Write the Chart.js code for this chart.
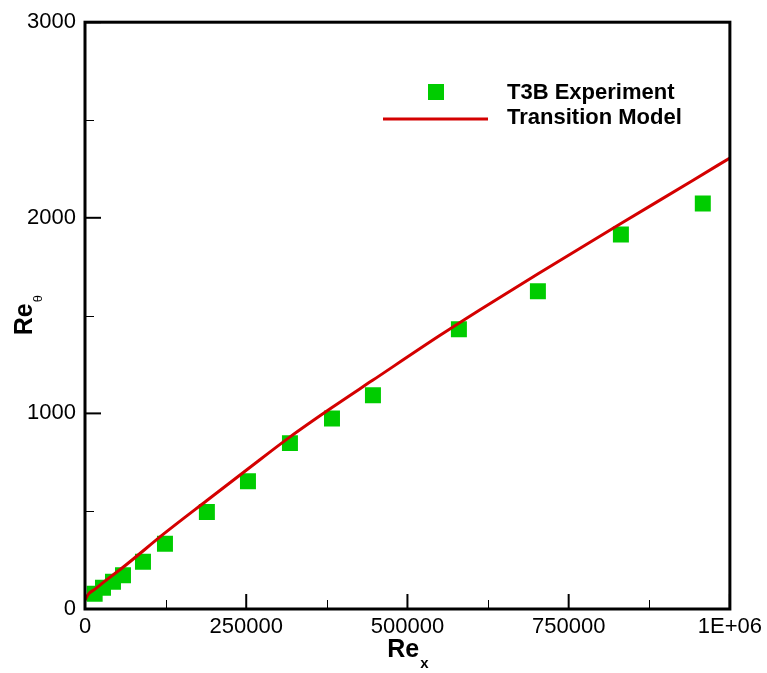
<!DOCTYPE html>
<html>
<head>
<meta charset="utf-8">
<script src="https://cdn.jsdelivr.net/npm/chart.js@4.4.1/dist/chart.umd.min.js"></script>
<style>
  body { margin: 0; background: #ffffff; }
  #wrap { width: 767px; height: 673px; }
</style>
</head>
<body>
<div id="wrap"><canvas id="chart" width="767" height="673"></canvas></div>
<script>
// T3B experiment (squares)
const expRex = [15000, 27900, 43400, 58900, 89900, 124000, 189000, 252700, 317800, 383000, 446500, 579800, 702300, 831000, 958000];
const expRetheta = [78, 109, 139, 173, 241, 333, 496, 653, 848, 974, 1093, 1430, 1624, 1915, 2073];

// transition model (red line)
const modelRex = [0, 5000, 15000, 30000, 60000, 124000, 189000, 251000, 318000, 383000, 446000, 550000, 612000, 702000, 831000, 943000, 1000000];
const modelRetheta = [45, 75, 100, 140, 216, 389, 555, 712, 880, 1030, 1169, 1398, 1529, 1713, 1971, 2192, 2306];

const xMajorTicks = [0, 250000, 500000, 750000, 1000000];
const xMinorTicks = [125000, 375000, 625000, 875000];
const yMajorTicks = [0, 1000, 2000, 3000];
const yMinorTicks = [500, 1500, 2500];

const legendLabels = ['T3B Experiment', 'Transition Model'];
const FONT = '"Liberation Sans", Arial, sans-serif';
const GREEN = '#00cc00';
const RED = '#d40000';

const toPoints = (xs, ys) => xs.map((x, i) => ({ x, y: ys[i] }));

const frameAndTicks = {
  id: 'frameAndTicks',
  afterDraw(chart) {
    const { ctx, chartArea: a, scales } = chart;
    ctx.save();
    ctx.strokeStyle = '#000';
    ctx.lineCap = 'butt';

    ctx.lineWidth = 2;
    xMajorTicks.forEach((v) => {
      const px = scales.x.getPixelForValue(v);
      ctx.beginPath(); ctx.moveTo(px, a.bottom); ctx.lineTo(px, a.bottom - 15); ctx.stroke();
    });
    yMajorTicks.forEach((v) => {
      const py = scales.y.getPixelForValue(v);
      ctx.beginPath(); ctx.moveTo(a.left, py); ctx.lineTo(a.left + 16, py); ctx.stroke();
    });

    ctx.lineWidth = 1;
    xMinorTicks.forEach((v) => {
      const px = Math.round(scales.x.getPixelForValue(v)) + 0.5;
      ctx.beginPath(); ctx.moveTo(px, a.bottom); ctx.lineTo(px, a.bottom - 9); ctx.stroke();
    });
    yMinorTicks.forEach((v) => {
      const py = Math.round(scales.y.getPixelForValue(v)) + 0.5;
      ctx.beginPath(); ctx.moveTo(a.left, py); ctx.lineTo(a.left + 9, py); ctx.stroke();
    });

    ctx.lineWidth = 3;
    ctx.strokeRect(a.left, a.top, a.right - a.left, a.bottom - a.top);

    // axis titles with subscripts
    ctx.fillStyle = '#000';
    ctx.textBaseline = 'alphabetic';
    ctx.font = `bold 25px ${FONT}`;
    const reW = ctx.measureText('Re').width;
    ctx.font = `bold 15px ${FONT}`;
    const subW = ctx.measureText('x').width;
    const cx = (a.left + a.right) / 2;
    const x0 = cx - (reW + subW) / 2;
    ctx.font = `bold 25px ${FONT}`;
    ctx.fillText('Re', x0, 657);
    ctx.font = `bold 15px ${FONT}`;
    ctx.fillText('x', x0 + reW + 1, 668);

    ctx.save();
    ctx.translate(32, (a.top + a.bottom) / 2);
    ctx.rotate(-Math.PI / 2);
    ctx.font = `bold 25px ${FONT}`;
    const reW2 = ctx.measureText('Re').width;
    ctx.font = `13px ${FONT}`;
    const thW = ctx.measureText('θ').width;
    const y0 = -(reW2 + thW) / 2;
    ctx.font = `bold 25px ${FONT}`;
    ctx.fillText('Re', y0, 0);
    ctx.font = `13px ${FONT}`;
    ctx.fillText('θ', y0 + reW2 + 1, 10);
    ctx.restore();

    // legend
    ctx.fillStyle = GREEN;
    ctx.fillRect(428, 84, 16, 16);
    ctx.strokeStyle = RED;
    ctx.lineWidth = 3;
    ctx.beginPath(); ctx.moveTo(383, 119); ctx.lineTo(488, 119); ctx.stroke();
    ctx.fillStyle = '#000';
    ctx.font = `bold 22px ${FONT}`;
    ctx.fillText(legendLabels[0], 507, 99);
    ctx.fillText(legendLabels[1], 507, 124);

    ctx.restore();
  }
};

new Chart(document.getElementById('chart'), {
  type: 'scatter',
  data: {
    datasets: [
      {
        label: legendLabels[0],
        data: toPoints(expRex, expRetheta),
        pointStyle: 'rect',
        pointRadius: 11.3,
        pointHoverRadius: 11.3,
        pointBorderWidth: 0,
        backgroundColor: GREEN,
        borderColor: GREEN,
        order: 1
      },
      {
        label: legendLabels[1],
        data: toPoints(modelRex, modelRetheta),
        showLine: true,
        borderColor: RED,
        borderWidth: 3,
        pointRadius: 0,
        cubicInterpolationMode: 'monotone',
        order: 0
      }
    ]
  },
  options: {
    responsive: false,
    animation: false,
    events: [],
    layout: { padding: { top: 20, right: 37, bottom: 0, left: 0 } },
    plugins: {
      legend: { display: false },
      tooltip: { enabled: false }
    },
    scales: {
      x: {
        type: 'linear',
        min: 0,
        max: 1000000,
        afterFit: (scale) => { scale.height = 64; },
        afterBuildTicks: (scale) => { scale.ticks = xMajorTicks.map((value) => ({ value })); },
        grid: { display: false, drawTicks: false },
        border: { display: false },
        ticks: {
          color: '#000',
          padding: 5,
          maxRotation: 0,
          font: { family: FONT, size: 22 },
          callback: (value) => (value === 1000000 ? '1E+06' : String(value))
        }
      },
      y: {
        type: 'linear',
        min: 0,
        max: 3000,
        afterFit: (scale) => { scale.width = 85; },
        afterBuildTicks: (scale) => { scale.ticks = yMajorTicks.map((value) => ({ value })); },
        grid: { display: false, drawTicks: false },
        border: { display: false },
        ticks: {
          color: '#000',
          padding: 9,
          font: { family: FONT, size: 22 },
          callback: (value) => String(value)
        }
      }
    }
  },
  plugins: [frameAndTicks]
});
</script>
</body>
</html>
